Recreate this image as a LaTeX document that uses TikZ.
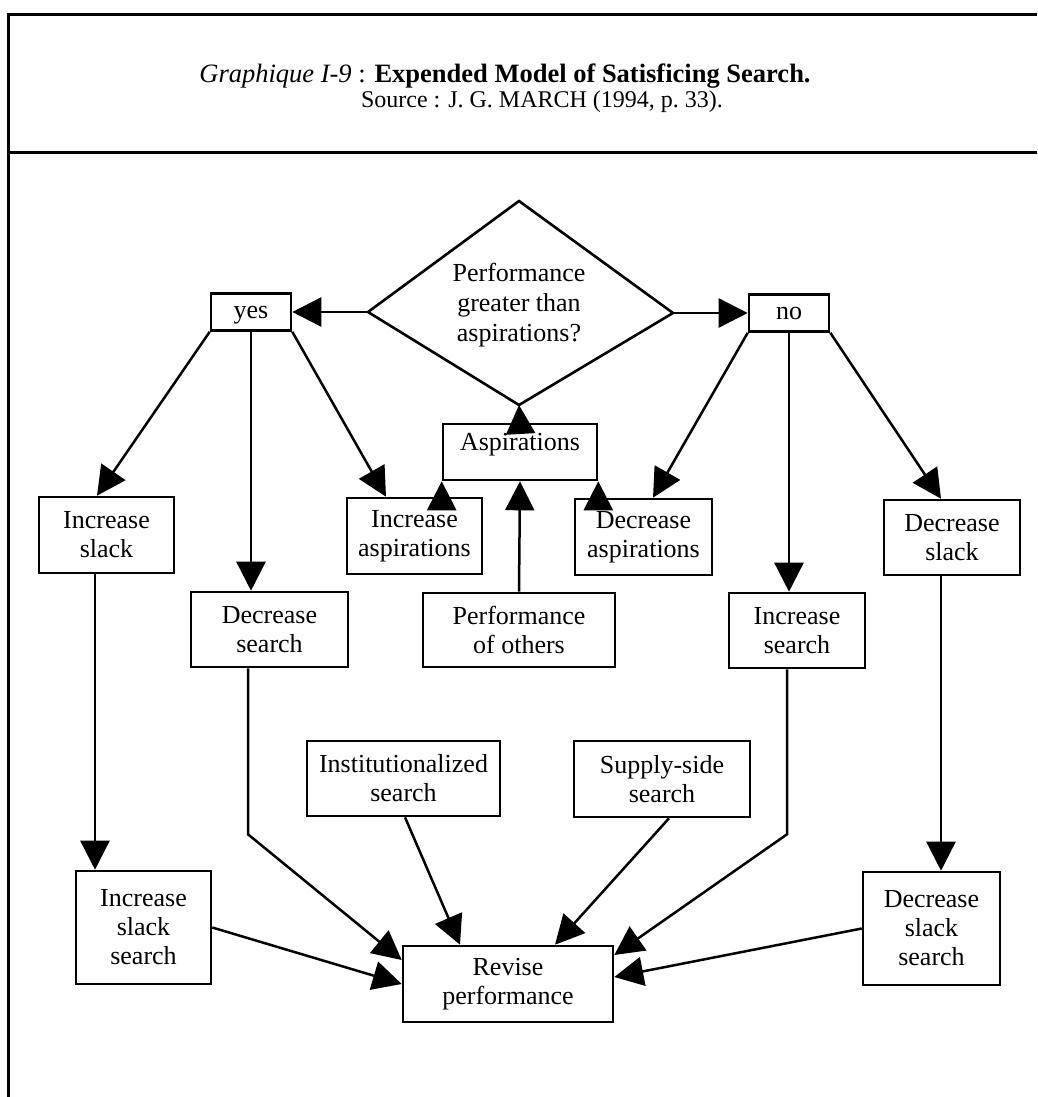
\documentclass[tikz,border=0pt]{standalone}
\usepackage{fontspec}
\setmainfont{Liberation Serif}
\usetikzlibrary{arrows.meta}
\begin{document}
\begin{tikzpicture}[x=1pt,y=-1pt,
  box/.style={draw, line width=2.6pt, align=center, inner sep=0pt,
              font=\fontsize{26}{29}\selectfont},
  tag/.style={box, minimum width=80pt, minimum height=37pt, text height=12pt, text depth=0pt},
  arr/.style={line width=2.5pt, -{Triangle[length=29pt,width=29pt]}},
  frameline/.style={line width=3pt}]
\useasboundingbox (0,0) rectangle (1037,1097);

% outer frame and header separator
\draw[frameline] (1037,15) -- (8,15) -- (8,1097);
\draw[frameline] (8,152) -- (1037,152);

% header
\node[anchor=base, inner sep=0pt, font=\fontsize{26.5}{30}\selectfont] (title) at (505,83)
  {\textit{Graphique I-9} : \textbf{Expended Model of Satisficing Search.}};
\node[anchor=base, inner sep=0pt, font=\fontsize{24}{28}\selectfont] (src) at (542,108)
  {Source : J.\ G.\ MARCH (1994, p.\ 33).};

% decision diamond
\coordinate (qT) at (519,201);
\coordinate (qR) at (673,313);
\coordinate (qB) at (519,405);
\coordinate (qL) at (368,312);
\draw[line width=2.6pt, line join=miter] (qT) -- (qR) -- (qB) -- (qL) -- cycle;
\node[align=center, inner sep=0pt, font=\fontsize{26}{30}\selectfont] (q) at (519,305)
  {Performance\\greater than\\aspirations?};

% boxes
\node[tag] (yes) at (251,312) {yes};
\node[tag] (no) at (789,313) {no};
\node[box, minimum width=135pt, minimum height=76pt] (isl) at (106.5,535) {Increase\\slack};
\node[box, minimum width=157pt, minimum height=75pt] (dse) at (269.5,629.5) {Decrease\\search};
\node[box, minimum width=135pt, minimum height=76pt] (ias) at (414.5,536) {Increase\\aspirations};
\node[box, minimum width=154pt, text height=26pt, text depth=30pt] (asp) at (520,452) {Aspirations};
\node[box, minimum width=192pt, minimum height=74pt] (pot) at (519,630) {Performance\\of others};
\node[box, minimum width=137pt, minimum height=76pt] (das) at (643.5,537) {Decrease\\aspirations};
\node[box, minimum width=136pt, minimum height=75pt] (ise) at (797,630.5) {Increase\\search};
\node[box, minimum width=136pt, minimum height=75pt] (dsl) at (952,537.5) {Decrease\\slack};
\node[box, minimum width=193pt, minimum height=75pt] (ins) at (403.5,778.5) {Institutionalized\\search};
\node[box, minimum width=176pt, minimum height=76pt] (sss) at (662,779) {Supply-side\\search};
\node[box, minimum width=135pt, minimum height=113pt] (iss) at (143.5,927.5) {Increase\\slack\\search};
\node[box, minimum width=137pt, minimum height=113pt] (dss) at (931.5,928.5) {Decrease\\slack\\search};
\node[box, minimum width=210pt, minimum height=76pt] (rev) at (508,984) {Revise\\performance};

% connectors from the decision
\draw[arr] (qL) -- (yes.east);
\draw[arr] (qR) -- (no.west);

% yes branch
\draw[arr] (yes.south west) -- ([xshift=-9.5pt]isl.north);
\draw[arr] (yes.south) -- (yes.south |- dse.north);
\draw[arr] (yes.south east) -- ([xshift=-28.5pt]ias.north);

% no branch
\draw[arr] (no.south west) -- ([xshift=9.5pt]das.north);
\draw[arr] (no.south) -- (no.south |- ise.north);
\draw[arr] (no.south east) -- ([xshift=-11pt]dsl.north);

% aspiration feedback
\draw[arr] (ias.north -| asp.south west) -- (asp.south west);
\draw[arr] (pot.north) -- (asp.south);
\draw[arr] (das.north -| asp.south east) -- (asp.south east);
\draw[arr] (asp.north) -- (qB);

% slack search
\draw[arr] ([xshift=-11.5pt]isl.south) -- ([xshift=-11.5pt]isl.south |- iss.north);
\draw[arr] ([xshift=-11pt]dsl.south) -- ([xshift=-11pt]dsl.south |- dss.north);

% into revise performance
\draw[arr, line join=miter] ([xshift=-21.5pt]dse.south) -- ++(0,166) -- ([yshift=24pt]rev.west);
\draw[arr, line join=miter] ([xshift=-10pt]ise.south) -- ++(0,165) -- ([yshift=29pt]rev.east);
\draw[arr] ([xshift=1.5pt]ins.south) -- ([xshift=-48pt]rev.north);
\draw[arr] ([xshift=7pt]sss.south) -- ([xshift=47pt]rev.north);
\draw[arr] (iss.east) -- (rev.west);
\draw[arr] (dss.west) -- ([yshift=7pt]rev.east);
\end{tikzpicture}
\end{document}
